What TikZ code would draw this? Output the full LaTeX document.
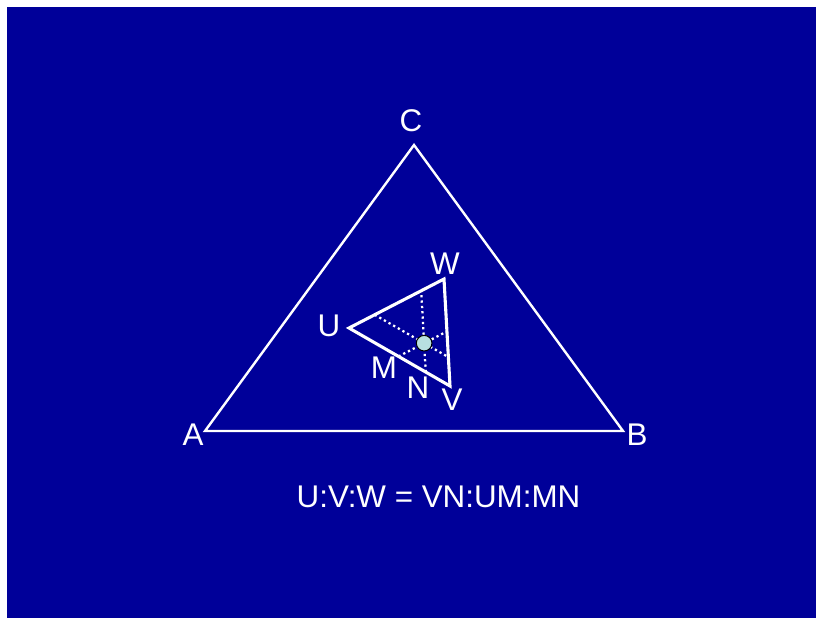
\documentclass[tikz,border=0pt]{standalone}
\usepackage{fontspec}
\setmainfont{Liberation Sans}
\usepackage{xcolor}
\definecolor{SlideBlue}{RGB}{0,0,153}
\definecolor{DotCyan}{RGB}{184,224,224}
\usetikzlibrary{positioning, calc}
\tikzset{
  % Point and formula labels
  vlabel/.style={text=white, font=\fontsize{22.3}{26}\selectfont, inner sep=0pt},
  % Triangle sides
  outer tri/.style={draw=white, line width=1.7pt, line join=miter},
  inner tri/.style={draw=white, line width=2.2pt, line join=miter},
  % Dotted parallels through the point
  helper/.style={draw=white, line width=1.6pt, dash pattern=on 1.6pt off 2.2pt},
  % The point itself
  centerdot/.style={
    circle, draw=black, fill=DotCyan, line width=0.7pt,
    minimum size=0.39cm, inner sep=0pt
  },
}

\begin{document}
\begin{tikzpicture}[x=0.025cm, y=-0.025cm]

  %% Background
  \useasboundingbox (0,0) rectangle (816,618);
  \fill[SlideBlue] (7,7) rectangle (816,618);

  %% Big triangle
  \coordinate (A) at (205,431);
  \coordinate (B) at (623,431);
  \coordinate (C) at (414,145);
  \draw[outer tri] (A) -- (B) -- (C) -- cycle;

  \node[vlabel] (labA) at (193,434.5) {A};
  \node[vlabel] (labB) at (637,434.5) {B};
  \node[vlabel] (labC) at (411,121) {C};

  %% Small triangle
  \coordinate (U) at (349,328);
  \coordinate (V) at (450,386);
  \coordinate (W) at (444,279);
  \draw[inner tri] (U) -- (V) -- (W) -- cycle;

  %% Point inside, weights 0.24 : 0.49 : 0.27
  \coordinate (P) at (barycentric cs:U=0.24,V=0.49,W=0.27);
  \coordinate (M)  at (barycentric cs:U=0.51,V=0.49);
  \coordinate (N)  at (barycentric cs:U=0.24,V=0.76);
  \coordinate (mw) at (barycentric cs:V=0.49,W=0.51);
  \coordinate (nw) at (barycentric cs:U=0.24,W=0.76);
  \coordinate (pu) at (barycentric cs:U=0.73,W=0.27);
  \coordinate (pv) at (barycentric cs:V=0.73,W=0.27);

  \draw[helper] (M) -- (mw);
  \draw[helper] (N) -- (nw);
  \draw[helper] (pu) -- (pv);

  \node[centerdot] (dot) at (P) {};

  \node[vlabel] (labU) at (329,326) {U};
  \node[vlabel] (labW) at (445,264) {W};
  \node[vlabel] (labM) at (384,367.5) {M};
  \node[vlabel] (labN) at (418,387.5) {N};
  \node[vlabel] (labV) at (452,400) {V};

  %% Ratio
  \node[vlabel] (ratio) at (438.5,497) {U:V:W = VN:UM:MN};

\end{tikzpicture}
\end{document}
